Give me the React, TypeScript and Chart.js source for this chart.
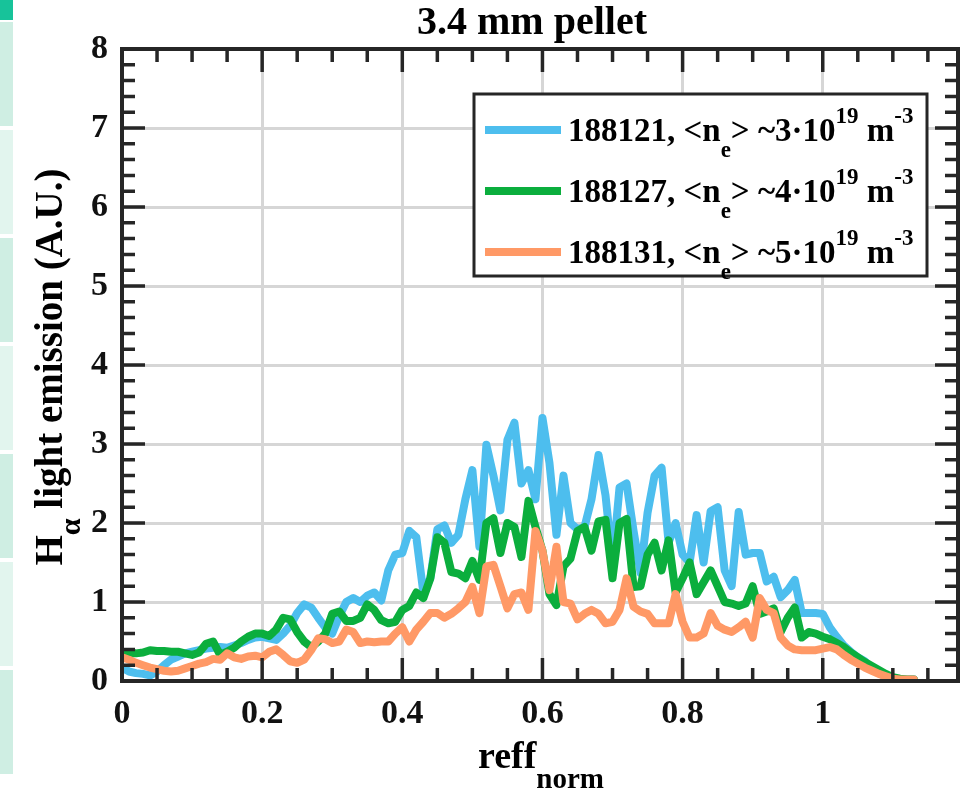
import React, { useEffect, useRef } from "react";
import { Chart, registerables } from "chart.js";
Chart.register(...registerables);

// ---------- data ----------
const reffNorm: number[] = Array.from({ length: 114 }, (_, i) => i / 100);

const shot188121 = [
  0.17, 0.12, 0.1, 0.09, 0.07, 0.12, 0.2, 0.27, 0.31, 0.35,
  0.37, 0.39, 0.41, 0.42, 0.43, 0.42, 0.45, 0.48, 0.52, 0.55,
  0.56, 0.54, 0.52, 0.6, 0.7, 0.86, 0.97, 0.93, 0.8, 0.68,
  0.6, 0.82, 1.0, 1.05, 1.0, 1.08, 1.12, 1.02, 1.4, 1.6,
  1.62, 1.9, 1.82, 1.12, 1.3, 1.92, 1.97, 1.75, 1.85, 2.3,
  2.67, 1.7, 2.99, 2.6, 2.16, 3.05, 3.27, 2.5, 2.67, 2.3,
  3.33, 2.76, 1.85, 2.6, 2.0, 1.92, 1.95, 2.3, 2.86, 2.35,
  1.49, 2.45, 2.5, 1.9, 1.37, 2.13, 2.6, 2.7, 1.75, 2.0,
  1.6, 1.5, 2.1, 1.5, 2.15, 2.2, 1.4, 1.2, 2.14, 1.6,
  1.62, 1.62, 1.26, 1.32, 1.06, 1.15, 1.28, 0.86, 0.86, 0.86,
  0.85, 0.68, 0.56, 0.45, 0.37, 0.3, 0.25, 0.16, 0.1, 0.05,
  0.03, 0.02, 0.02, 0.02,
];

const shot188127 = [
  0.33, 0.35, 0.35, 0.36, 0.39, 0.38, 0.38, 0.37, 0.37, 0.35,
  0.33, 0.36, 0.47, 0.5, 0.33, 0.37, 0.42, 0.5, 0.56, 0.6,
  0.6, 0.57, 0.65, 0.8, 0.78, 0.62, 0.5, 0.43, 0.5, 0.6,
  0.85, 0.88, 0.76, 0.76, 0.8, 0.97, 0.9, 0.77, 0.73, 0.75,
  0.9, 0.95, 1.12, 1.05, 1.3, 1.82, 1.75, 1.38, 1.36, 1.3,
  1.52, 1.28, 2.0, 2.06, 1.62, 2.0, 1.95, 1.57, 2.28, 1.95,
  1.65, 1.1, 0.96, 1.45, 1.55, 1.9, 1.95, 1.65, 2.02, 2.04,
  1.3, 2.0, 2.05, 1.19, 1.2, 1.6, 1.75, 1.4, 1.78, 1.12,
  1.3, 1.5, 1.1, 1.25, 1.4, 1.2, 1.0, 0.98, 0.95, 0.98,
  1.2, 0.85, 0.88, 0.92, 0.62, 0.8, 0.93, 0.55, 0.62, 0.6,
  0.56, 0.53, 0.48, 0.43, 0.36, 0.3, 0.24, 0.19, 0.14, 0.09,
  0.05, 0.03, 0.02, 0.02,
];

const shot188131 = [
  0.3, 0.27, 0.23, 0.2, 0.17, 0.15, 0.13, 0.12, 0.13, 0.16,
  0.19, 0.22, 0.24, 0.28, 0.27, 0.35, 0.3, 0.28, 0.31, 0.32,
  0.3, 0.37, 0.4, 0.33, 0.25, 0.23, 0.27, 0.39, 0.54, 0.53,
  0.48, 0.5, 0.65, 0.62, 0.48, 0.5, 0.49, 0.5, 0.5, 0.6,
  0.68, 0.5, 0.65, 0.75, 0.86, 0.86, 0.8, 0.85, 0.92, 1.0,
  1.19, 0.86, 1.45, 1.47, 1.2, 0.92, 1.1, 1.12, 0.9, 1.9,
  1.65, 1.15, 1.7, 1.0, 0.98, 0.78, 0.85, 0.9, 0.85, 0.73,
  0.75, 0.9, 1.3, 0.94, 0.88, 0.85, 0.73, 0.73, 0.73, 1.1,
  0.75, 0.55, 0.55, 0.6, 0.86, 0.7, 0.65, 0.62, 0.68, 0.75,
  0.55, 1.05, 0.9, 0.86, 0.55, 0.45, 0.4, 0.39, 0.39, 0.39,
  0.41, 0.43, 0.4, 0.33, 0.27, 0.22, 0.17, 0.13, 0.09, 0.06,
  0.03, 0.02, 0.02, 0.02,
];

const shotIds = ["188121", "188127", "188131"];
const densities = ["3", "4", "5"];
const seriesColors = ["#4DBEEE", "#0BAE3D", "#FF9966"];
const seriesValues = [shot188121, shot188127, shot188131];

const titleText = "3.4 mm pellet";
const xTitleMain = "reff";
const xTitleSub = "norm";
const yTitleMain = "H";
const yTitleSub = "α";
const yTitleRest = " light emission (A.U.)";

const X_MIN = 0;
const X_MAX = 1.193;
const Y_MIN = 0;
const Y_MAX = 8;

// ---------- drawing helpers ----------
const FONT = '"Liberation Serif", "Times New Roman", serif';
const AXIS_COLOR = "#262626";

type Run = { t: string; k: "n" | "sub" | "sup" };

function runsWidth(ctx: CanvasRenderingContext2D, runs: Run[], base: number, script: number) {
  let w = 0;
  for (const r of runs) {
    ctx.font = `bold ${r.k === "n" ? base : script}px ${FONT}`;
    w += ctx.measureText(r.t).width;
  }
  return w;
}

function drawRuns(
  ctx: CanvasRenderingContext2D,
  runs: Run[],
  x: number,
  y: number,
  base: number,
  script: number,
  subOff: number,
  supOff: number
) {
  let cx = x;
  ctx.textBaseline = "alphabetic";
  ctx.textAlign = "left";
  for (const r of runs) {
    ctx.font = `bold ${r.k === "n" ? base : script}px ${FONT}`;
    const dy = r.k === "sub" ? subOff : r.k === "sup" ? -supOff : 0;
    ctx.fillText(r.t, cx, y + dy);
    cx += ctx.measureText(r.t).width;
  }
}

const decorPlugin = {
  id: "decor",
  afterDatasetsDraw(chart: any) {
    const { ctx, chartArea: a, scales } = chart;
    const xs = scales.x;
    const ys = scales.y;
    ctx.save();
    ctx.strokeStyle = AXIS_COLOR;
    ctx.lineCap = "butt";
    ctx.lineWidth = 3.5;
    for (let i = 0; i * 0.05 <= X_MAX + 1e-9; i++) {
      const v = i * 0.05;
      const px = xs.getPixelForValue(v);
      const len = i % 4 === 0 ? 23 : 13;
      ctx.beginPath();
      ctx.moveTo(px, a.bottom);
      ctx.lineTo(px, a.bottom - len);
      ctx.moveTo(px, a.top);
      ctx.lineTo(px, a.top + len);
      ctx.stroke();
    }
    for (let i = 0; i <= 40; i++) {
      const v = i * 0.2;
      const py = ys.getPixelForValue(v);
      const len = i % 5 === 0 ? 23 : 13;
      ctx.beginPath();
      ctx.moveTo(a.left, py);
      ctx.lineTo(a.left + len, py);
      ctx.moveTo(a.right, py);
      ctx.lineTo(a.right - len, py);
      ctx.stroke();
    }
    ctx.lineWidth = 4;
    ctx.strokeRect(a.left, a.top, a.right - a.left, a.bottom - a.top);
    ctx.restore();
  },
  afterDraw(chart: any) {
    const { ctx } = chart;
    ctx.save();
    ctx.fillStyle = "#000";
    // title
    ctx.font = `bold 40px ${FONT}`;
    ctx.textAlign = "center";
    ctx.textBaseline = "alphabetic";
    ctx.fillText(titleText, 532, 34);

    // x title
    const xr: Run[] = [
      { t: xTitleMain, k: "n" },
      { t: xTitleSub, k: "sub" },
    ];
    const xw = runsWidth(ctx, xr, 38, 29);
    drawRuns(ctx, xr, 541 - xw / 2, 768, 38, 29, 20, 0);

    // y title (rotated)
    const yr: Run[] = [
      { t: yTitleMain, k: "n" },
      { t: yTitleSub, k: "sub" },
      { t: yTitleRest, k: "n" },
    ];
    const yw = runsWidth(ctx, yr, 39, 30);
    ctx.save();
    ctx.translate(62, 367);
    ctx.rotate(-Math.PI / 2);
    drawRuns(ctx, yr, -yw / 2, 0, 39, 30, 18, 0);
    ctx.restore();

    // legend
    const lx = 474, ly = 94, lw = 453, lh = 182;
    ctx.fillStyle = "#fff";
    ctx.fillRect(lx, ly, lw, lh);
    ctx.strokeStyle = AXIS_COLOR;
    ctx.lineWidth = 3;
    ctx.strokeRect(lx, ly, lw, lh);
    chart.data.datasets.forEach((ds: any, i: number) => {
      const cy = 130 + i * 61;
      ctx.strokeStyle = ds.borderColor;
      ctx.lineWidth = 8;
      ctx.beginPath();
      ctx.moveTo(485, cy);
      ctx.lineTo(561, cy);
      ctx.stroke();
      ctx.fillStyle = "#000";
      const runs: Run[] = [
        { t: `${shotIds[i]}, <n`, k: "n" },
        { t: "e", k: "sub" },
        { t: `> ~${densities[i]}·10`, k: "n" },
        { t: "19", k: "sup" },
        { t: " m", k: "n" },
        { t: "-3", k: "sup" },
      ];
      drawRuns(ctx, runs, 568, cy + 11, 33, 23, 16, 18);
    });
    ctx.restore();
  },
};

const fmtTick = (v: number) => String(Math.round(v * 10) / 10);

export default function App() {
  const ref = useRef<HTMLCanvasElement>(null);
  useEffect(() => {
    const datasets = seriesValues.map((vals, i) => ({
      label: shotIds[i],
      data: vals.map((y, j) => ({ x: reffNorm[j], y })),
      borderColor: seriesColors[i],
      backgroundColor: seriesColors[i],
      borderWidth: 8,
      borderJoinStyle: "round",
      borderCapStyle: "round",
      pointRadius: 0,
      tension: 0,
      fill: false,
      order: 3 - i,
    }));
    const chart = new Chart(ref.current as HTMLCanvasElement, {
      type: "line",
      data: { datasets },
      options: {
        animation: false,
        responsive: false,
        maintainAspectRatio: false,
        layout: { padding: { top: 49, right: 3, left: 0, bottom: 0 } },
        plugins: {
          legend: { display: false },
          title: { display: false },
          tooltip: { enabled: false },
        },
        scales: {
          x: {
            type: "linear",
            min: X_MIN,
            max: X_MAX,
            border: { display: false },
            grid: { color: "#d6d6d6", lineWidth: 3, drawTicks: false },
            ticks: {
              stepSize: 0.2,
              includeBounds: false,
              autoSkip: false,
              maxRotation: 0,
              padding: 13,
              color: "#111",
              font: { family: FONT, size: 34, weight: "bold" },
              callback: (v: any) => fmtTick(Number(v)),
            },
            afterFit: (s: any) => {
              s.height = 115;
            },
          },
          y: {
            type: "linear",
            min: Y_MIN,
            max: Y_MAX,
            border: { display: false },
            grid: { color: "#d6d6d6", lineWidth: 3, drawTicks: false },
            ticks: {
              stepSize: 1,
              includeBounds: false,
              padding: 14,
              color: "#111",
              font: { family: FONT, size: 34, weight: "bold" },
              callback: (v: any) => fmtTick(Number(v)),
            },
            afterFit: (s: any) => {
              s.width = 122;
            },
          },
        },
      },
      plugins: [decorPlugin],
    } as any);
    return () => chart.destroy();
  }, []);

  const bands = [20, 128, 236, 344, 452, 560, 668];
  return (
    <div style={{ position: "fixed", left: 0, top: 0, width: 961, height: 796, background: "#fff", overflow: "hidden" }}>
      <canvas ref={ref} width={961} height={796} style={{ display: "block", width: 961, height: 796 }} />
      <div style={{ position: "absolute", left: 0, top: 0, width: 13, height: 20, background: "#17c39a" }} />
      {bands.map((t, i) => (
        <div
          key={t}
          style={{
            position: "absolute",
            left: 0,
            top: t + 2,
            width: 13,
            height: 104,
            background: i % 2 === 0 ? "#cfeee3" : "#e2f5ee",
          }}
        />
      ))}
    </div>
  );
}
